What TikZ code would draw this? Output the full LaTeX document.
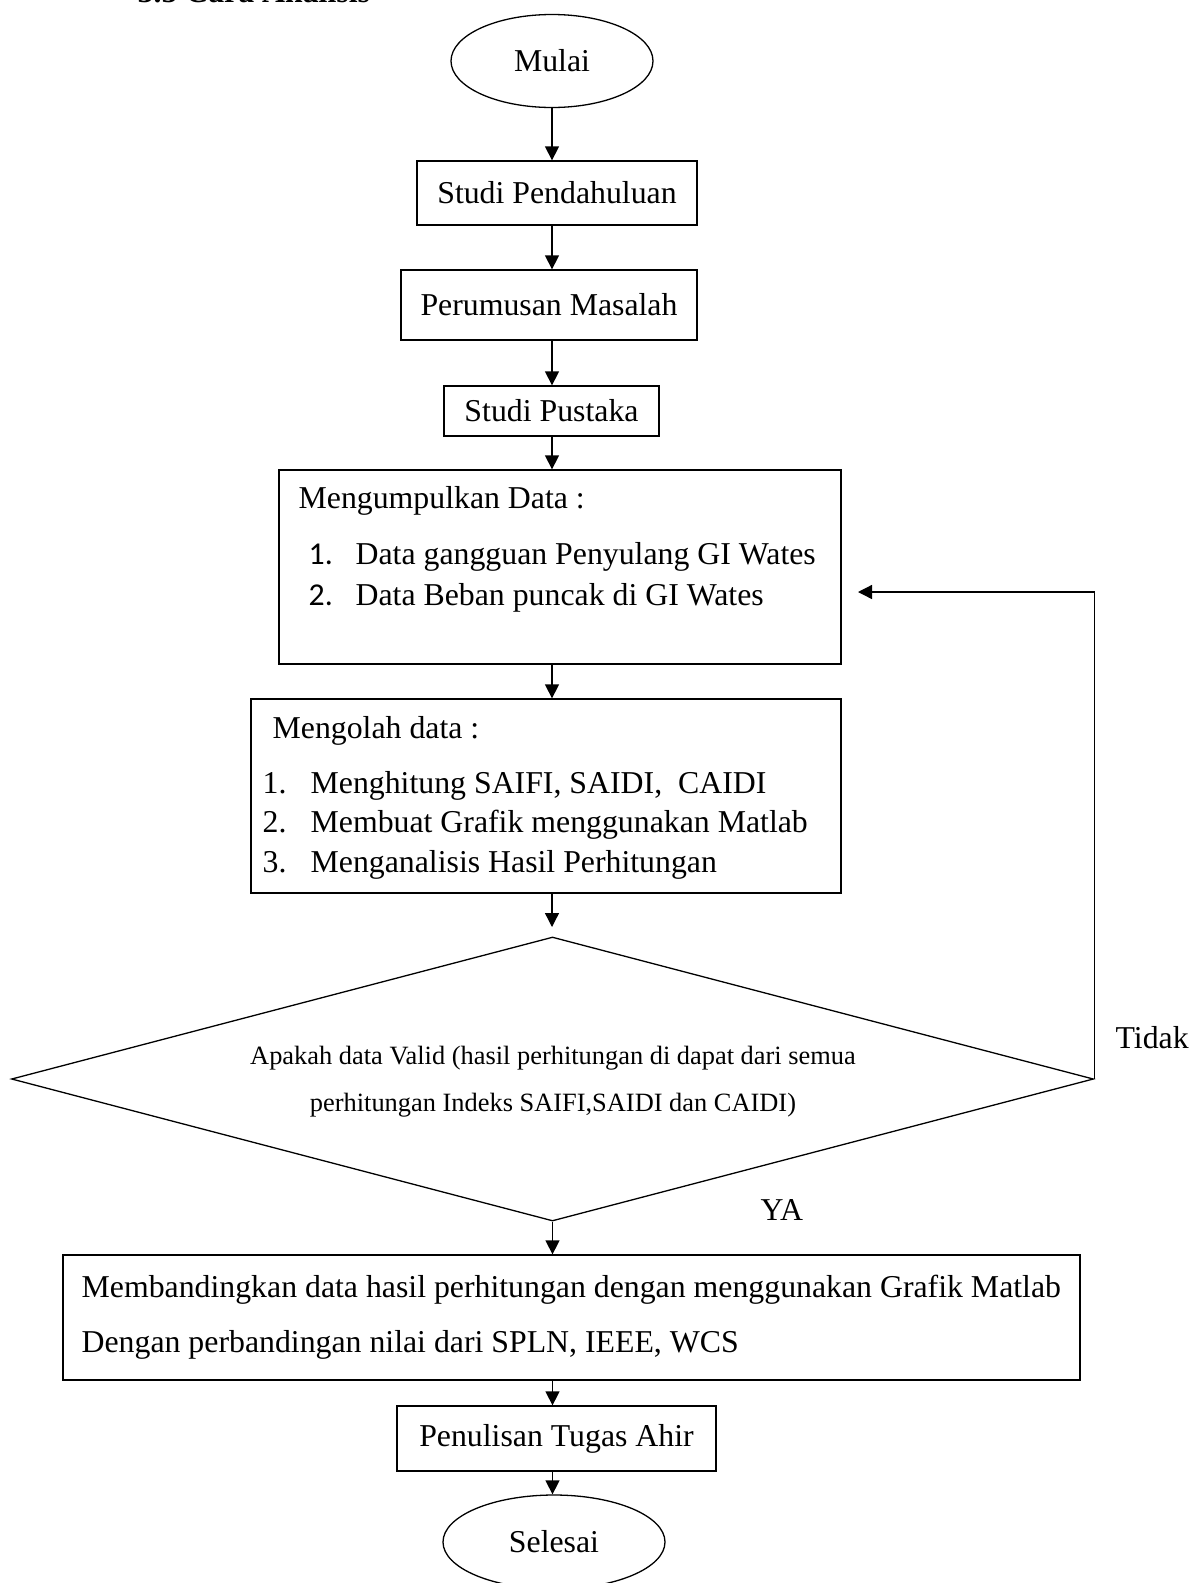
\documentclass[tikz,border=0pt]{standalone}
\usepackage{fontspec}
\setmainfont{Liberation Serif}
\newfontfamily\numfont{Carlito}
\usetikzlibrary{arrows.meta,shapes.geometric}
\newcommand{\bigsz}{\fontsize{31.8}{38}\selectfont}
\newcommand{\smallsz}{\fontsize{26.4}{32}\selectfont}
\begin{document}
\begin{tikzpicture}[x=1pt,y=-1pt,
  line width=1.3pt,
  every node/.style={font=\bigsz, inner sep=0pt},
  boxnode/.style={draw, rectangle},
  termnode/.style={draw, ellipse},
  flowarrow/.style={-{Triangle[length=14pt,width=14pt]}},
  txt/.style={anchor=base west}
]
\useasboundingbox (0,0) rectangle (1197,1583);

% title (cut by the page edge)
\node[txt, font=\bigsz\bfseries] (title) at (137,2.5) {3.5 Cara Analisis};

% nodes
\node[termnode, minimum width=202pt, minimum height=93pt] (mulai) at (552,61) {Mulai};
\node[boxnode, minimum width=280pt, minimum height=64pt] (sp) at (557,193) {Studi Pendahuluan};
\node[boxnode, minimum width=296pt, minimum height=70pt] (pm) at (549,305) {Perumusan Masalah};
\node[boxnode, minimum width=215pt, minimum height=50pt] (spu) at (551.5,411) {Studi Pustaka};
\node[boxnode, minimum width=562pt, minimum height=194pt] (kumpul) at (560,567) {};
\node[boxnode, minimum width=590pt, minimum height=194pt] (olah) at (546,796) {};
\node[draw, diamond, minimum width=1082pt, minimum height=284pt] (valid) at (552.5,1079) {};
\node[boxnode, minimum width=1017pt, minimum height=125pt] (banding) at (571.5,1317.5) {};
\node[boxnode, minimum width=319pt, minimum height=65pt] (tulis) at (556.5,1438.5) {Penulisan Tugas Ahir};
\node[termnode, minimum width=222pt, minimum height=94pt] (selesai) at (554,1542) {Selesai};

% texts inside the boxes
\node[txt] (k0) at (298,508) {Mengumpulkan Data :};
\node[txt, font=\bigsz\numfont] (k1n) at (308,564) {1.};
\node[txt] (k1) at (355,564) {Data gangguan Penyulang GI Wates};
\node[txt, font=\bigsz\numfont] (k2n) at (308,605) {2.};
\node[txt] (k2) at (355,605) {Data Beban puncak di GI Wates};

\node[txt] (o0) at (272,738) {Mengolah data :};
\node[txt] (o1n) at (262,793) {1.};
\node[txt] (o1) at (310,793) {Menghitung SAIFI, SAIDI,\ \ CAIDI};
\node[txt] (o2n) at (262,832) {2.};
\node[txt] (o2) at (310,832) {Membuat Grafik menggunakan Matlab};
\node[txt] (o3n) at (262,872) {3.};
\node[txt] (o3) at (310,872) {Menganalisis Hasil Perhitungan};

\node[anchor=base, font=\smallsz] (v1) at (553,1064) {Apakah data Valid (hasil perhitungan di dapat dari semua};
\node[anchor=base, font=\smallsz] (v2) at (553,1111) {perhitungan Indeks SAIFI,SAIDI dan CAIDI)};

\node[txt] (b1) at (81,1297) {Membandingkan data hasil perhitungan dengan menggunakan Grafik Matlab};
\node[txt] (b2) at (81,1352) {Dengan perbandingan nilai dari SPLN, IEEE, WCS};

% labels
\node[txt] (tidak) at (1115,1048) {Tidak};
\node[txt] (ya) at (760,1220) {YA};

% connectors
\draw[flowarrow] (mulai.south) -- (mulai.south |- sp.north);
\draw[flowarrow] (mulai.south |- sp.south) -- (mulai.south |- pm.north);
\draw[flowarrow] (mulai.south |- pm.south) -- (mulai.south |- spu.north);
\draw[flowarrow] (mulai.south |- spu.south) -- (mulai.south |- kumpul.north);
\draw[flowarrow] (mulai.south |- kumpul.south) -- (mulai.south |- olah.north);
\coordinate (vtip) at (552,927);
\draw[flowarrow] (mulai.south |- olah.south) -- (vtip);
\draw[flowarrow] (valid.south) -- (valid.south |- banding.north);
\draw[flowarrow] (valid.south |- banding.south) -- (valid.south |- tulis.north);
\draw[flowarrow] (valid.south |- tulis.south) -- (valid.south |- selesai.north);

\coordinate (fbturn) at (valid.east |- 0,592);
\coordinate (fbend) at (858,592);
\draw[flowarrow] (valid.east) -- (fbturn) -- (fbend);
\end{tikzpicture}
\end{document}
